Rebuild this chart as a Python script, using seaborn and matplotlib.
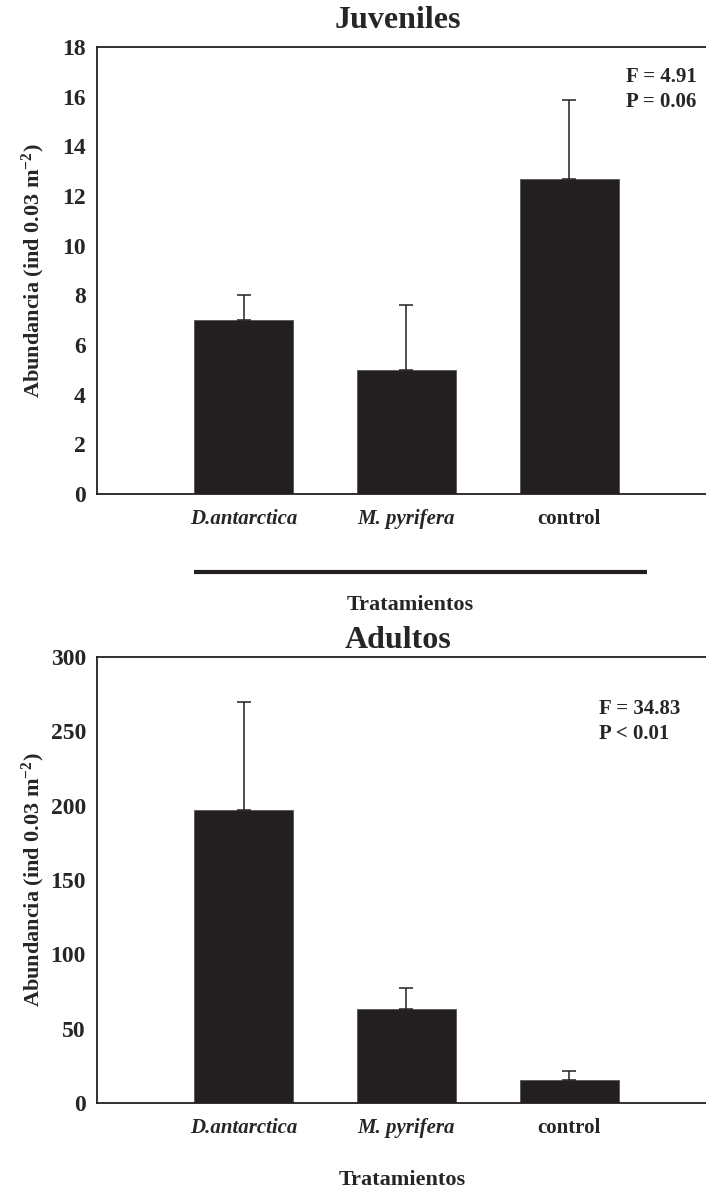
import matplotlib
matplotlib.use("Agg")
import matplotlib.pyplot as plt
import seaborn as sns
import pandas as pd
import numpy as np

sns.set_style("white")
plt.rcParams['font.family'] = ['Liberation Serif', 'DejaVu Serif']
plt.rcParams['font.weight'] = 'bold'
plt.rcParams['mathtext.fontset'] = 'custom'
plt.rcParams['mathtext.rm'] = 'Liberation Serif:bold'
plt.rcParams['mathtext.bf'] = 'Liberation Serif:bold'
plt.rcParams['mathtext.default'] = 'bf'

# data
tratamientos = ['D.antarctica', 'M. pyrifera', 'control']
juv_mean = [7.0, 5.0, 12.67]
juv_err = [1.0, 2.62, 3.2]
adu_mean = [197.0, 63.5, 15.7]
adu_err = [73.0, 13.8, 5.8]

bar_color = '#231f20'
W, H = 706, 1193
fig = plt.figure(figsize=(W / 100, H / 100), dpi=100)

def px_axes(left, top, right, bottom):
    return fig.add_axes([left / W, 1 - bottom / H, (right - left) / W, (bottom - top) / H])

panels = [
    dict(title='Juveniles', mean=juv_mean, err=juv_err, ymax=18, step=2,
         box=(97, 47, 706, 494), title_y=21, stats='F = 4.91\nP = 0.06',
         stats_xy=(0.868, 0.955), xlab_y=605, xlab_x=410, underline=True),
    dict(title='Adultos', mean=adu_mean, err=adu_err, ymax=300, step=50,
         box=(97, 657, 706, 1103), title_y=640, stats='F = 34.83\nP < 0.01',
         stats_xy=(0.824, 0.905), xlab_y=1180, xlab_x=402, underline=False),
]

for p in panels:
    ax = px_axes(*p['box'])
    df = pd.DataFrame({'Tratamiento': tratamientos, 'Abundancia': p['mean']})
    sns.barplot(data=df, x='Tratamiento', y='Abundancia', ax=ax, color=bar_color,
                width=0.61, saturation=1, edgecolor='#555555', linewidth=0.6)
    xs = np.arange(len(tratamientos))
    ax.errorbar(xs, p['mean'], yerr=[np.zeros(len(xs)), p['err']], fmt='none',
                ecolor=bar_color, elinewidth=1.1, capsize=5, capthick=1.1, zorder=1)

    ax.set_xlim(-0.9, 2.84)
    ax.set_ylim(0, p['ymax'])
    ax.set_yticks(np.arange(0, p['ymax'] + 1, p['step']))
    ax.tick_params(axis='y', direction='in', length=5, width=1, pad=8, labelsize=17)
    ax.tick_params(axis='x', length=0, pad=11, labelsize=15)
    for lab in ax.get_yticklabels():
        lab.set_fontweight('bold')
    for lab, name in zip(ax.get_xticklabels(), tratamientos):
        lab.set_fontweight('bold')
        if name != 'control':
            lab.set_fontstyle('italic')

    for side in ['top', 'left', 'bottom']:
        ax.spines[side].set_visible(True)
        ax.spines[side].set_color('#231f20')
        ax.spines[side].set_linewidth(1.3)
    ax.spines['right'].set_visible(False)

    ax.set_xlabel('')
    ax.set_ylabel('Abundancia (ind 0.03 m$^{-2}$)', fontsize=16, fontweight='bold')
    ax.yaxis.set_label_coords(-0.082, 0.5)

    ax.text(p['stats_xy'][0], p['stats_xy'][1], p['stats'], transform=ax.transAxes,
            ha='left', va='top', fontsize=15, fontweight='bold', linespacing=1.3)

    fig.text((p['box'][0] + p['box'][2]) / 2 / W - 0.005, 1 - p['title_y'] / H, p['title'],
             ha='center', va='center', fontsize=23, fontweight='bold')
    fig.text(p['xlab_x'] / W, 1 - p['xlab_y'] / H, 'Tratamientos',
             ha='center', va='center', fontsize=16, fontweight='bold')

    if p['underline']:
        ax.plot([-0.305, 2.48], [-0.175, -0.175], transform=ax.get_xaxis_transform(),
                color='#231f20', linewidth=3, clip_on=False, solid_capstyle='butt')

fig.savefig('out.png', dpi=100)
